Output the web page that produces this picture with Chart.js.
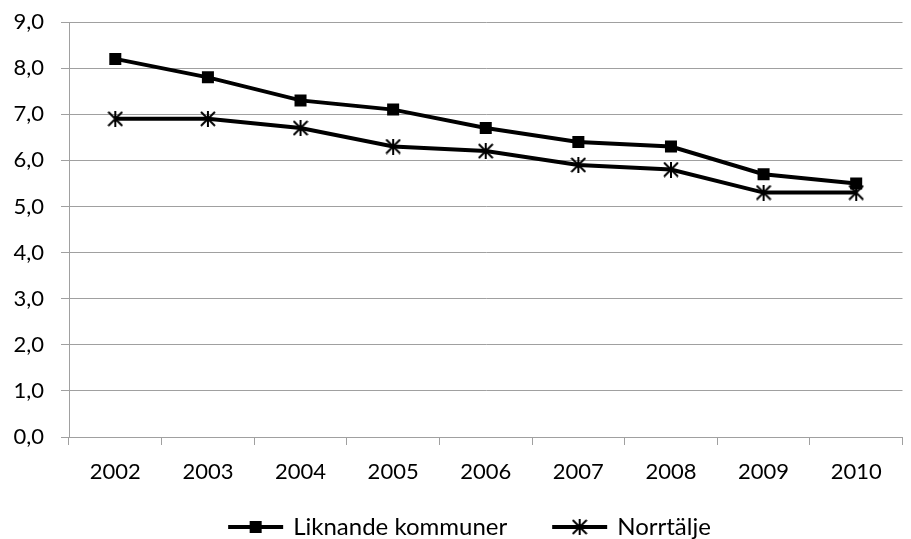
<!DOCTYPE html>
<html lang="sv">
<head>
  <meta charset="UTF-8">
  <title>Liknande kommuner / Norrtälje</title>
  <script src="https://cdn.jsdelivr.net/npm/chart.js"></script>
  <style>
    body { margin: 0; background: #fff; }
    #wrap { width: 911px; height: 539px; }
  </style>
</head>
<body>
  <div id="wrap"><canvas id="chart" width="911" height="539"></canvas></div>

  <script>
    // data
    const years = ['2002', '2003', '2004', '2005', '2006', '2007', '2008', '2009', '2010'];
    const liknande = [8.2, 7.8, 7.3, 7.1, 6.7, 6.4, 6.3, 5.7, 5.5];
    const norrtalje = [6.9, 6.9, 6.7, 6.3, 6.2, 5.9, 5.8, 5.3, 5.3];
    const seriesNames = ['Liknande kommuner', 'Norrtälje'];

    const FONT = 'Lato, "Open Sans", sans-serif';

    // asterisk marker (X + vertical bar), like the office chart marker
    function starMarker(size) {
      const c = document.createElement('canvas');
      c.width = size; c.height = size;
      const g = c.getContext('2d');
      const h = size / 2;
      g.strokeStyle = '#000';
      g.lineWidth = 2;
      g.beginPath();
      g.moveTo(h, 0); g.lineTo(h, size);
      g.moveTo(1, 1); g.lineTo(size - 1, size - 1);
      g.moveTo(size - 1, 1); g.lineTo(1, size - 1);
      g.stroke();
      return c;
    }

    const star = starMarker(16);

    // legend swatch: line with the marker in the middle
    function drawSwatch(g, x, y, kind) {
      const w = 55;
      g.save();
      g.strokeStyle = '#000';
      g.lineWidth = 4;
      g.beginPath();
      g.moveTo(x, y); g.lineTo(x + w, y);
      g.stroke();
      if (kind === 'rect') {
        g.fillStyle = '#000';
        g.fillRect(x + w / 2 - 6, y - 6, 12, 12);
      } else {
        g.drawImage(star, x + w / 2 - 8, y - 8);
      }
      g.restore();
      return w;
    }

    // bottom legend, drawn by hand so the spacing can follow the original
    const bottomLegend = {
      id: 'bottomLegend',
      afterDraw(chart) {
        const g = chart.ctx;
        const kinds = ['rect', 'star'];
        const gapBox = 10, gapItem = 45, swW = 55;
        g.save();
        g.font = '24px ' + FONT;
        g.fillStyle = '#000';
        g.textBaseline = 'middle';
        const widths = chart.data.datasets.map(ds => g.measureText(ds.label).width);
        let total = 0;
        widths.forEach((w, i) => { total += swW + gapBox + w + (i ? gapItem : 0); });
        let x = chart.width / 2 + 14 - total / 2;
        const y = 527;
        chart.data.datasets.forEach((ds, i) => {
          drawSwatch(g, x, y, kinds[i]);
          x += swW + gapBox;
          g.fillText(ds.label, x, y);
          x += widths[i] + gapItem;
        });
        g.restore();
      }
    };

    const ctx = document.getElementById('chart').getContext('2d');
    new Chart(ctx, {
      type: 'line',
      data: {
        labels: years,
        datasets: [
          {
            label: seriesNames[0],
            data: liknande,
            borderColor: '#000',
            backgroundColor: '#000',
            borderWidth: 4,
            pointStyle: 'rect',
            pointRadius: 8.5,
            pointBorderWidth: 0,
            tension: 0
          },
          {
            label: seriesNames[1],
            data: norrtalje,
            borderColor: '#000',
            backgroundColor: '#000',
            borderWidth: 4,
            pointStyle: star,
            tension: 0
          }
        ]
      },
      options: {
        responsive: false,
        animation: false,
        layout: { padding: { left: 0, right: 4, top: 22, bottom: 42 } },
        plugins: {
          tooltip: { enabled: false },
          legend: { display: false }
        },
        scales: {
          x: {
            offset: true,
            grid: {
              offset: true,
              drawOnChartArea: false,
              drawTicks: true,
              tickLength: 8,
              color: '#a0a0a0',
              lineWidth: 1
            },
            border: { color: '#a0a0a0', width: 1 },
            ticks: {
              color: '#000',
              padding: 14,
              font: { family: FONT, size: 22 }
            },
            afterFit: function(scale) { scale.height = 60; }
          },
          y: {
            min: 0,
            max: 9,
            grid: {
              color: '#a0a0a0',
              lineWidth: 1,
              drawTicks: true,
              tickLength: 8
            },
            border: { color: '#a0a0a0', width: 1 },
            ticks: {
              stepSize: 1,
              color: '#000',
              padding: 17,
              font: { family: FONT, size: 22 },
              callback: v => v.toFixed(1).replace('.', ',')
            },
            afterFit: function(scale) {
              scale.width = 69;
              scale.paddingTop = 0;
              scale.paddingBottom = 0;
            }
          }
        }
      },
      plugins: [bottomLegend]
    });
  </script>
</body>
</html>
